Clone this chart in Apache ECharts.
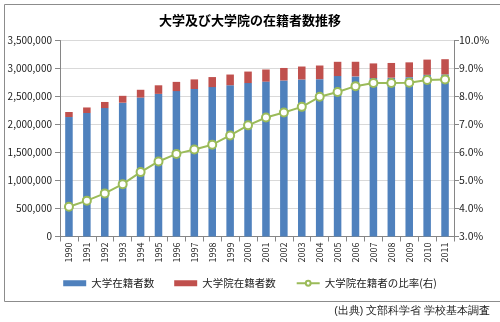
<!DOCTYPE html>
<html><head><meta charset="utf-8">
<script src="https://cdn.jsdelivr.net/npm/echarts@6/dist/echarts.min.js"></script>
<style>html,body{margin:0;padding:0;background:#fff}#c{width:500px;height:322px}</style>
</head><body><div id="c"></div>
<script>
const years = ['1990','1991','1992','1993','1994','1995','1996','1997','1998','1999','2000','2001','2002','2003','2004','2005','2006','2007','2008','2009','2010','2011'];
const univ = [2133362,2205516,2293269,2389648,2481309,2546649,2596667,2633790,2668086,2701104,2740023,2765705,2786032,2803901,2809295,2865051,2859212,2828708,2836127,2845908,2887414,2893489];
const grad = [90238,98650,109108,122360,138752,153423,164350,171547,178901,191125,205311,216322,223512,231489,244024,254480,261049,262113,262686,263989,271454,272566];
const ratio = [4.06,4.28,4.54,4.87,5.30,5.68,5.95,6.11,6.28,6.61,6.97,7.25,7.43,7.63,7.99,8.16,8.37,8.48,8.48,8.49,8.59,8.61];
const leftTicks = {min:0, max:3500000, interval:500000};
const rightTicks = {min:3, max:10, interval:1};
const FF = '"Noto Sans CJK JP", sans-serif';
const chart = echarts.init(document.getElementById('c'));
function commas(v){return String(v).replace(/\B(?=(\d{3})+(?!\d))/g, ',');}
chart.setOption({
  animation:false,
  textStyle:{fontFamily:FF},
  title:{text:'大学及び大学院の在籍者数推移', left:'center', top:9,
    textStyle:{fontSize:13, fontWeight:'bold', color:'#000', fontFamily:FF}},
  grid:{left:60, right:46, top:40.5, bottom:85.5},
  legend:{left:'center', top:273, itemGap:20, itemWidth:23, itemHeight:6,
    textStyle:{fontSize:10.5, color:'#222', fontFamily:FF},
    data:[{name:'大学在籍者数', icon:'rect'},{name:'大学院在籍者数', icon:'rect'},{name:'大学院在籍者の比率(右)'}]},
  xAxis:{type:'category', data:years, boundaryGap:true,
    axisLine:{lineStyle:{color:'#868686'}},
    axisTick:{show:true, alignWithLabel:false, lineStyle:{color:'#868686'}},
    axisLabel:{rotate:90, fontSize:9, color:'#222', margin:6, fontFamily:FF}},
  yAxis:[
    {type:'value', min:leftTicks.min, max:leftTicks.max, interval:leftTicks.interval,
     axisLine:{show:true, lineStyle:{color:'#868686'}}, axisTick:{show:true, lineStyle:{color:'#868686'}},
     splitLine:{lineStyle:{color:'#d9d9d9'}},
     axisLabel:{formatter:v=>commas(v), fontSize:10, color:'#222', margin:8, fontFamily:FF}},
    {type:'value', min:rightTicks.min, max:rightTicks.max, interval:rightTicks.interval,
     axisLine:{show:true, lineStyle:{color:'#868686'}}, axisTick:{show:true, lineStyle:{color:'#868686'}},
     splitLine:{show:false},
     axisLabel:{formatter:v=>v.toFixed(1)+'%', fontSize:10.5, color:'#222', margin:5, fontFamily:FF}}
  ],
  series:[
    {name:'大学在籍者数', type:'bar', stack:'s', data:univ, barWidth:'42%', itemStyle:{color:'#4F81BD'}},
    {name:'大学院在籍者数', type:'bar', stack:'s', data:grad, barWidth:'42%', itemStyle:{color:'#C0504D'}},
    {name:'大学院在籍者の比率(右)', type:'line', yAxisIndex:1, data:ratio,
     symbol:'circle', symbolSize:8, lineStyle:{color:'#9BBB59', width:2},
     itemStyle:{color:'#fff', borderColor:'#9BBB59', borderWidth:2}, z:5}
  ],
  graphic:[
    {type:'rect', left:2, top:2, shape:{width:496, height:297},
     style:{fill:'none', stroke:'#8c8c8c', lineWidth:1}, silent:true},
    {type:'text', right:10, top:306, style:{text:'(出典) 文部科学省 学校基本調査', fontSize:10.5, fill:'#222', font:'10.5px '+FF}}
  ]
});
</script></body></html>
